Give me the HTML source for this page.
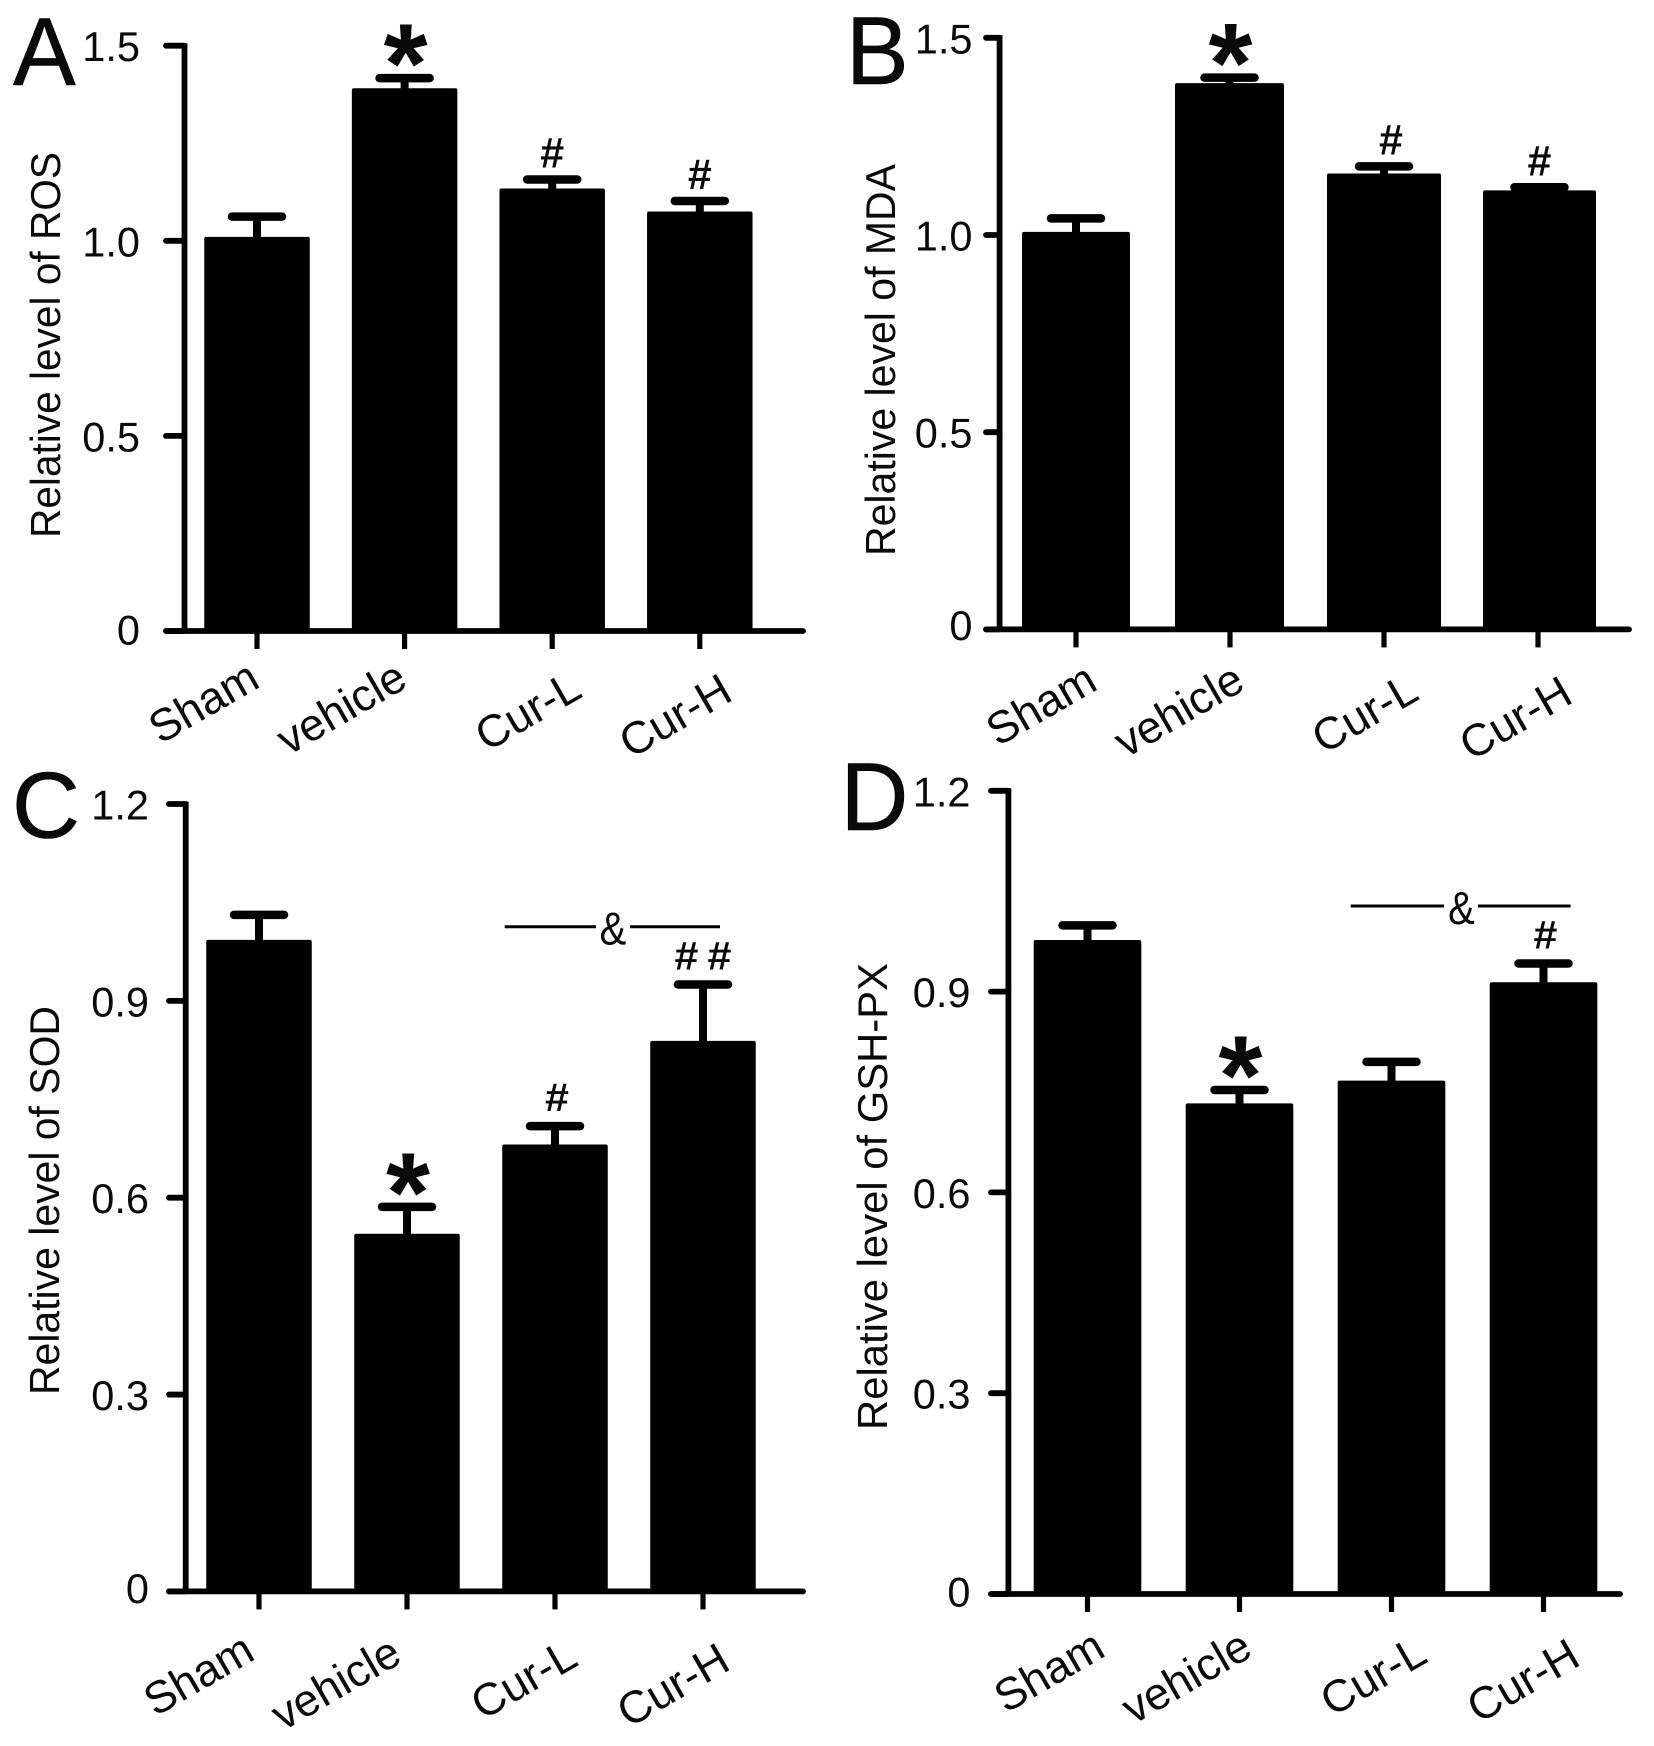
<!DOCTYPE html>
<html lang="en">
<head>
<meta charset="utf-8">
<title>Relative levels of ROS, MDA, SOD and GSH-PX</title>
<style>
  html, body { margin: 0; padding: 0; background: #fff; }
  body { width: 1654px; height: 1746px; overflow: hidden; }
  svg { display: block; }
  text { font-family: "Liberation Sans", sans-serif; fill: #0a0a0a; }
</style>
</head>
<body>
<svg id="figure" xmlns="http://www.w3.org/2000/svg" width="1654" height="1746" viewBox="0 0 1654 1746">
  <rect x="0" y="0" width="1654" height="1746" fill="#fff"/>

  <g id="panel-a">
    <text transform="translate(13,85) scale(1,1.03)" font-size="94" stroke="#000" stroke-width="0.6">A</text>
    <text transform="translate(60,538) rotate(-90)" font-size="42" textLength="386" lengthAdjust="spacingAndGlyphs">Relative level of ROS</text>
  </g>

  <g id="panel-b">
    <text transform="translate(846,84) scale(1,1.03)" font-size="94" stroke="#000" stroke-width="0.6">B</text>
    <text transform="translate(895,556) rotate(-90)" font-size="41.5" textLength="392" lengthAdjust="spacingAndGlyphs">Relative level of MDA</text>
  </g>

  <g id="panel-c">
    <text transform="translate(12,837.5)" font-size="94" stroke="#000" stroke-width="0.6">C</text>
    <text transform="translate(59,1395) rotate(-90)" font-size="41.5" textLength="389" lengthAdjust="spacingAndGlyphs">Relative level of SOD</text>
  </g>

  <g id="panel-d">
    <text transform="translate(840.5,830) scale(1,1.03)" font-size="94" stroke="#000" stroke-width="0.6">D</text>
    <text transform="translate(887,1430) rotate(-90)" font-size="41.8" textLength="467" lengthAdjust="spacingAndGlyphs">Relative level of GSH-PX</text>
  </g>
</svg>

<script>
// ---- chart data ----
const categories = ["Sham", "vehicle", "Cur-L", "Cur-H"];

const ticksAB = [0, 0.5, 1.0, 1.5];
const tickLabelsAB = ["0", "0.5", "1.0", "1.5"];
const ticksCD = [0, 0.3, 0.6, 0.9, 1.2];
const tickLabelsCD = ["0", "0.3", "0.6", "0.9", "1.2"];

const meansA = [1.010, 1.391, 1.134, 1.075];
const errorsA = [0.052, 0.026, 0.023, 0.027];
const marksA = ["", "*", "#", "#"];

const meansB = [1.008, 1.385, 1.156, 1.113];
const errorsB = [0.034, 0.014, 0.018, 0.008];
const marksB = ["", "*", "#", "#"];

const meansC = [0.993, 0.545, 0.681, 0.839];
const errorsC = [0.038, 0.041, 0.028, 0.086];
const marksC = ["", "*", "#", "##"];

const meansD = [0.977, 0.733, 0.767, 0.914];
const errorsD = [0.022, 0.020, 0.028, 0.028];
const marksD = ["", "*", "", "#"];

// ---- drawing ----
const SVG_NS = "http://www.w3.org/2000/svg";

function makeLine(parent, x1, y1, x2, y2, width, cap) {
  const el = document.createElementNS(SVG_NS, "line");
  el.setAttribute("x1", x1);
  el.setAttribute("y1", y1);
  el.setAttribute("x2", x2);
  el.setAttribute("y2", y2);
  el.setAttribute("stroke", "#000");
  el.setAttribute("stroke-width", width);
  el.setAttribute("stroke-linecap", cap);
  parent.appendChild(el);
  return el;
}

function makeText(parent, str, x, y, size, anchor, weight, sy, rot) {
  const el = document.createElementNS(SVG_NS, "text");
  el.textContent = str;
  el.setAttribute("transform", "translate(" + x + "," + y + ") scale(1," + sy + ") rotate(" + rot + ")");
  el.setAttribute("font-size", size);
  el.setAttribute("text-anchor", anchor);
  el.setAttribute("font-weight", weight);
  parent.appendChild(el);
  return el;
}

function drawPanel(panelId, frame, ticks, tickLabels, means, errors, marks) {
  const g = document.getElementById(panelId);
  const yScale = function (v) {
    return frame.zeroY - v * (frame.zeroY - frame.topY) / frame.maxValue;
  };
  const xScale = function (i) {
    return frame.firstX + i * frame.stepX;
  };

  // bars
  categories.forEach(function (cat, i) {
    const cx = xScale(i) + frame.barShift[i];
    const w = frame.barWidths[i];
    const top = yScale(means[i]);
    const bar = document.createElementNS(SVG_NS, "rect");
    bar.setAttribute("x", cx - w / 2);
    bar.setAttribute("y", top);
    bar.setAttribute("width", w);
    bar.setAttribute("height", frame.zeroY - top);
    bar.setAttribute("rx", 2);
    bar.setAttribute("fill", "#000");
    
    
    g.appendChild(bar);

    // error bar: stem + cap
    const capY = yScale(means[i] + errors[i]);
    const stem = makeLine(g, cx, top + 2, cx, capY, 8, "butt");
    
    
    const capLine = makeLine(g, cx - 25, capY, cx + 25, capY, 8.5, "round");
    
    

    // significance marks sit relative to the cap
    const hx = cx + frame.hashShift[i];
    if (marks[i] === "*") {
      const star = makeText(g, "*", cx + 1, capY + 24.5, 113, "middle", "bold", 1, 0);
      
      
    } else if (marks[i] === "#") {
      const hash = makeText(g, "#", hx, capY - frame.hashGap, 43, "middle", "bold", frame.hashSy, 0);
      
      
    } else if (marks[i] === "##") {
      const hash1 = makeText(g, "#", hx - 16.5, capY - frame.hashGap, 43, "middle", "bold", frame.hashSy, 0);
      
      
      const hash2 = makeText(g, "#", hx + 16.5, capY - frame.hashGap, 43, "middle", "bold", frame.hashSy, 0);
      
      
    }
  });

  // y axis
  const yAxis = makeLine(g, frame.axisX, frame.topY - 2.5, frame.axisX, frame.zeroY + 2.5, 5.8, "butt");
  
  

  // x axis
  const xAxis = makeLine(g, frame.tickLeft, frame.zeroY, frame.axisRight, frame.zeroY, 5.8, "round");
  
  

  // y ticks + labels (the "0" label sits a little above its tick in the figure)
  ticks.forEach(function (t, i) {
    const ty = yScale(t);
    const tick = makeLine(g, frame.tickLeft, ty, frame.axisX, ty, 5.8, "round");
    
    
    const raise = t === 0 ? frame.zeroLabelRaise : 0;
    const label = makeText(g, tickLabels[i], frame.labelRight, ty + 15.5 - raise, 41.5, "end", "normal", 1, 0);
    
    
  });

  // x ticks + labels
  categories.forEach(function (cat, i) {
    const tx = xScale(i);
    const tick = makeLine(g, tx, frame.zeroY, tx, frame.zeroY + 18, 5.2, "butt");
    
    
    const label = makeText(g, cat, tx + frame.labelDx[i] + 1, frame.zeroY + frame.labelDy[i] + 2, 45, "end", "normal", 1, -30);
    
    
  });

  // bracket with "&"
  if (frame.bracket) {
    const b = frame.bracket;
    const left = makeLine(g, b.x1, b.y, b.gap1, b.y, 3, "butt");
    
    
    const right = makeLine(g, b.gap2, b.y, b.x2, b.y, 3, "butt");
    
    
    const amp = makeText(g, "&", b.mid, b.y + 18, 40, "middle", "normal", 1.15, 0);
    
    
  }
}

drawPanel("panel-a", {
  axisX: 184.5, tickLeft: 166, axisRight: 803, topY: 45.7, zeroY: 631, maxValue: 1.5,
  firstX: 257, stepX: 147.6, barShift: [0, 0, 0, 0], barWidths: [105.5, 105.5, 105.5, 105.5],
  labelRight: 140, zeroLabelRaise: 2, hashSy: 1, hashGap: 12, hashShift: [0, 0, 0, 0],
  labelDx: [4, 4, 31, 34], labelDy: [53, 53, 63, 66]
}, ticksAB, tickLabelsAB, meansA, errorsA, marksA);

drawPanel("panel-b", {
  axisX: 999.6, tickLeft: 986, axisRight: 1629, topY: 37.8, zeroY: 629.4, maxValue: 1.5,
  firstX: 1076, stepX: 154, barShift: [0, -0.5, 0, 1.5], barWidths: [108, 109, 114, 113],
  labelRight: 972.5, zeroLabelRaise: 5, hashSy: 1, hashGap: 12, hashShift: [0, 0, 7, 0],
  labelDx: [22.6, 16, 36, 36], labelDy: [57, 57, 67, 70]
}, ticksAB, tickLabelsAB, meansB, errorsB, marksB);

drawPanel("panel-c", {
  axisX: 185.7, tickLeft: 169, axisRight: 803, topY: 804, zeroY: 1591.4, maxValue: 1.2,
  firstX: 259, stepX: 148, barShift: [0, 0, 0, 0], barWidths: [105.5, 105.5, 105.5, 105.5],
  labelRight: 149, zeroLabelRaise: 4, hashSy: 0.93, hashGap: 15, hashShift: [0, 0, 2, 0],
  labelDx: [-3, -4, 24, 28.5], labelDy: [65, 68, 71, 75],
  bracket: { x1: 504.7, x2: 720, gap1: 596, gap2: 630, mid: 613, y: 926.7 }
}, ticksCD, tickLabelsCD, meansC, errorsC, marksC);

drawPanel("panel-d", {
  axisX: 1008.4, tickLeft: 991, axisRight: 1620, topY: 790.8, zeroY: 1594, maxValue: 1.2,
  firstX: 1087.5, stepX: 152, barShift: [0, 0, 0, 0], barWidths: [107.6, 107.6, 107.6, 107.6],
  labelRight: 970.5, zeroLabelRaise: 3, hashSy: 0.93, hashGap: 15, hashShift: [0, 0, 0, 2],
  labelDx: [19, 14, 37, 38], labelDy: [59, 59, 65, 68],
  bracket: { x1: 1350.7, x2: 1570.6, gap1: 1444, gap2: 1478, mid: 1461.5, y: 906 }
}, ticksCD, tickLabelsCD, meansD, errorsD, marksD);
</script>
</body>
</html>
